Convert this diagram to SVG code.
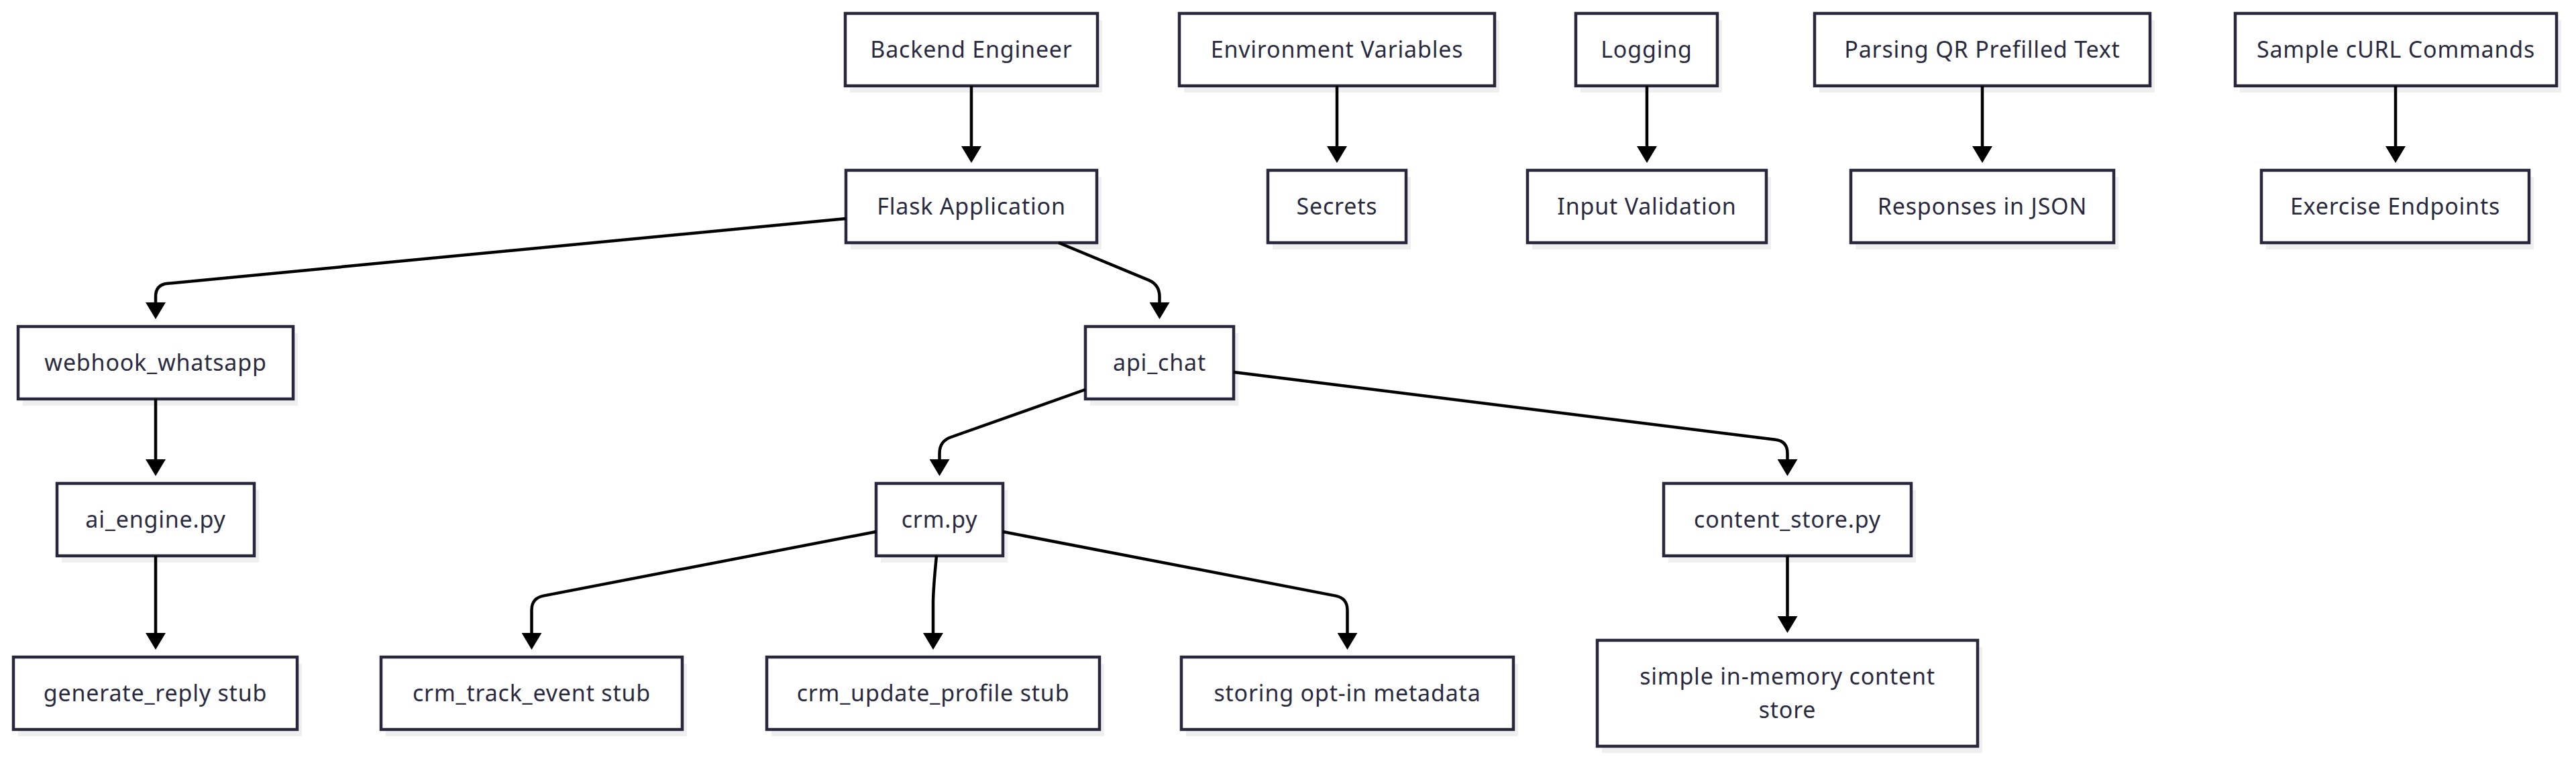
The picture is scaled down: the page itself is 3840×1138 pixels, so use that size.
<svg xmlns="http://www.w3.org/2000/svg" width="3840" height="1138" viewBox="0 0 3840 1138">
<style>
.sh{fill:#efefef;stroke:none}
.box{fill:#ffffff;stroke:#28283c;stroke-width:4.5}
.lbl{font-family:"Noto Sans","DejaVu Sans",sans-serif;font-size:34px;fill:#2a2a3f;text-anchor:middle;letter-spacing:0.8px}
.edge{fill:none;stroke:#000000;stroke-width:4.5}
</style>
<defs>
<marker id="arr" viewBox="0 0 25 30" refX="0" refY="15" markerWidth="25" markerHeight="30" markerUnits="userSpaceOnUse" orient="auto">
<path d="M0,0 L25,15 L0,30 z" fill="#000000"/>
</marker>
</defs>
<rect width="3840" height="1138" fill="#ffffff"/>
<g id="nodes">
<g id="n_backend"><rect class="sh" x="1267" y="30" width="376" height="108"/><rect class="box" x="1260" y="20" width="376" height="108"/><text class="lbl" x="1448" y="86">Backend Engineer</text></g>
<g id="n_env"><rect class="sh" x="1765" y="30" width="470" height="108"/><rect class="box" x="1758" y="20" width="470" height="108"/><text class="lbl" x="1993" y="86">Environment Variables</text></g>
<g id="n_logging"><rect class="sh" x="2356" y="30" width="211" height="108"/><rect class="box" x="2349" y="20" width="211" height="108"/><text class="lbl" x="2454.5" y="86">Logging</text></g>
<g id="n_parsing"><rect class="sh" x="2712" y="30" width="500" height="108"/><rect class="box" x="2705" y="20" width="500" height="108"/><text class="lbl" x="2955" y="86">Parsing QR Prefilled Text</text></g>
<g id="n_curl"><rect class="sh" x="3339" y="30" width="479" height="108"/><rect class="box" x="3332" y="20" width="479" height="108"/><text class="lbl" x="3571.5" y="86">Sample cURL Commands</text></g>
<g id="n_flask"><rect class="sh" x="1268" y="264" width="374" height="108"/><rect class="box" x="1261" y="254" width="374" height="108"/><text class="lbl" x="1448" y="320">Flask Application</text></g>
<g id="n_secrets"><rect class="sh" x="1897" y="264" width="206" height="108"/><rect class="box" x="1890" y="254" width="206" height="108"/><text class="lbl" x="1993" y="320">Secrets</text></g>
<g id="n_input"><rect class="sh" x="2284" y="264" width="356" height="108"/><rect class="box" x="2277" y="254" width="356" height="108"/><text class="lbl" x="2455" y="320">Input Validation</text></g>
<g id="n_responses"><rect class="sh" x="2766" y="264" width="392" height="108"/><rect class="box" x="2759" y="254" width="392" height="108"/><text class="lbl" x="2955" y="320">Responses in JSON</text></g>
<g id="n_exercise"><rect class="sh" x="3378" y="264" width="399" height="108"/><rect class="box" x="3371" y="254" width="399" height="108"/><text class="lbl" x="3570.5" y="320">Exercise Endpoints</text></g>
<g id="n_webhook"><rect class="sh" x="34" y="497" width="410" height="108"/><rect class="box" x="27" y="487" width="410" height="108"/><text class="lbl" x="232" y="553">webhook_whatsapp</text></g>
<g id="n_api"><rect class="sh" x="1625" y="497" width="221" height="108"/><rect class="box" x="1618" y="487" width="221" height="108"/><text class="lbl" x="1728.5" y="553">api_chat</text></g>
<g id="n_ai"><rect class="sh" x="92" y="731" width="294" height="108"/><rect class="box" x="85" y="721" width="294" height="108"/><text class="lbl" x="232" y="787">ai_engine.py</text></g>
<g id="n_crm"><rect class="sh" x="1313" y="731" width="189" height="108"/><rect class="box" x="1306" y="721" width="189" height="108"/><text class="lbl" x="1400.5" y="787">crm.py</text></g>
<g id="n_content"><rect class="sh" x="2487" y="731" width="369" height="108"/><rect class="box" x="2480" y="721" width="369" height="108"/><text class="lbl" x="2664.5" y="787">content_store.py</text></g>
<g id="n_gen"><rect class="sh" x="27" y="990" width="423" height="108"/><rect class="box" x="20" y="980" width="423" height="108"/><text class="lbl" x="231.5" y="1046">generate_reply stub</text></g>
<g id="n_track"><rect class="sh" x="575" y="990" width="449" height="108"/><rect class="box" x="568" y="980" width="449" height="108"/><text class="lbl" x="792.5" y="1046">crm_track_event stub</text></g>
<g id="n_update"><rect class="sh" x="1150" y="990" width="496" height="108"/><rect class="box" x="1143" y="980" width="496" height="108"/><text class="lbl" x="1391" y="1046">crm_update_profile stub</text></g>
<g id="n_storing"><rect class="sh" x="1768" y="990" width="495" height="108"/><rect class="box" x="1761" y="980" width="495" height="108"/><text class="lbl" x="2008.5" y="1046">storing opt-in metadata</text></g>
<g id="n_simple"><rect class="sh" x="2388" y="965" width="567" height="158"/><rect class="box" x="2381" y="955" width="567" height="158"/><text class="lbl" x="2664.5" y="1021">simple in-memory content</text><text class="lbl" x="2664.5" y="1071">store</text></g>
</g>
<g id="edges">
<path class="edge" marker-end="url(#arr)" d="M1448,128 L1448,218"/>
<path class="edge" marker-end="url(#arr)" d="M1993,128 L1993,218"/>
<path class="edge" marker-end="url(#arr)" d="M2455,128 L2455,218"/>
<path class="edge" marker-end="url(#arr)" d="M2955,128 L2955,218"/>
<path class="edge" marker-end="url(#arr)" d="M3571,128 L3571,218"/>
<path class="edge" marker-end="url(#arr)" d="M1261,326 L249.9,422.8 Q232,424.5 232,442.5 L232,451"/>
<path class="edge" marker-end="url(#arr)" d="M1578,362 L1711.9,417.6 Q1728.5,424.5 1728.5,442.5 L1728.5,451"/>
<path class="edge" marker-end="url(#arr)" d="M232,595 L232,685"/>
<path class="edge" marker-end="url(#arr)" d="M1618,581 L1417.5,652 Q1400.5,658 1400.5,676 L1400.5,685"/>
<path class="edge" marker-end="url(#arr)" d="M1839,555 L2646.6,655.8 Q2664.5,658 2664.5,676 L2664.5,685"/>
<path class="edge" marker-end="url(#arr)" d="M232,829 L232,944"/>
<path class="edge" marker-end="url(#arr)" d="M1306,793 L810.2,888.6 Q792.5,892 792.5,910 L792.5,944"/>
<path class="edge" marker-end="url(#arr)" d="M1396,829 C1393,860 1391,880 1391,900 L1391,944"/>
<path class="edge" marker-end="url(#arr)" d="M1495,793 L1990.8,888.6 Q2008.5,892 2008.5,910 L2008.5,944"/>
<path class="edge" marker-end="url(#arr)" d="M2664.5,829 L2664.5,919"/>
</g>
</svg>
